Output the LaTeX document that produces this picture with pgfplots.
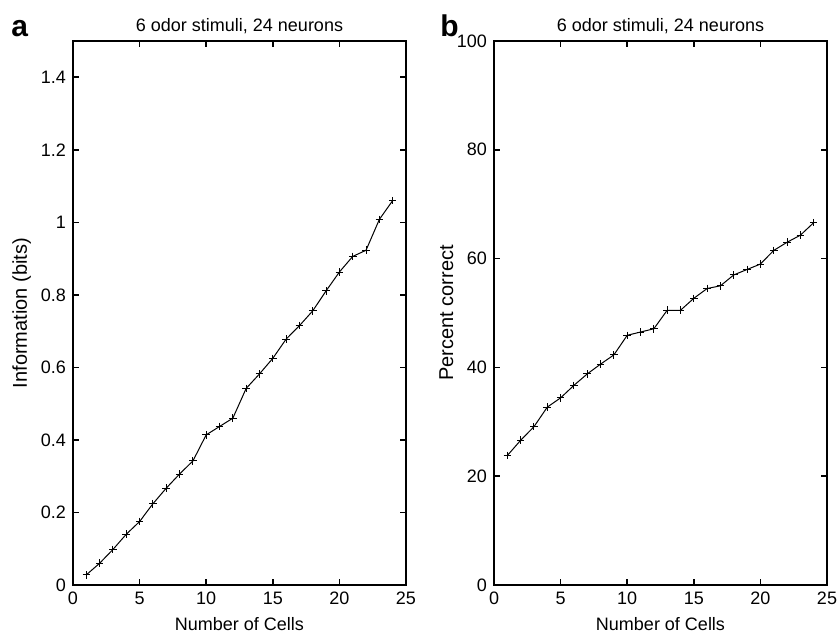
\documentclass[border=0pt]{standalone}
\usepackage{fontspec}
\setmainfont{Liberation Sans}
\usepackage{pgfplots}
\pgfplotsset{compat=1.18}

\pgfplotsset{
  panel/.style={
    scale only axis,
    width=166.5pt,
    height=272pt,
    xmin=0, xmax=25,
    xtick={0,5,...,25},
    tick align=inside,
    major tick length=3pt,
    axis line style={line width=1pt},
    every tick/.style={black, line width=0.8pt},
    tick label style={font=\fontsize{9}{11}\selectfont},
    label style={font=\fontsize{9}{11}\selectfont},
    every axis title/.style={font=\fontsize{9}{11}\selectfont, at={(rel axis cs:0.5,1)}, anchor=base, yshift=4.5pt},
    xlabel style={at={(rel axis cs:0.5,0)}, anchor=base, yshift=-22.5pt},
    /pgf/number format/assume math mode=true,
    xlabel={Number of Cells},
    title={6 odor stimuli, 24 neurons},
    clip=false,
  },
  curve/.style={black, line width=0.5pt, mark=+, mark size=1.9pt, mark options={line width=0.5pt}},
}

\begin{document}
\begin{tikzpicture}
\begin{axis}[panel, name=left,
  ymin=0, ymax=1.5,
  ytick={0,0.2,...,1.4},
  yticklabels={0,0.2,0.4,0.6,0.8,1,1.2,1.4},
  ylabel={Information (bits)},
  every axis y label/.style={at={(rel axis cs:0,0.5)}, rotate=90, anchor=base, yshift=23pt}]
\addplot[curve] coordinates {
(1,0.028) (2,0.060) (3,0.098) (4,0.140) (5,0.175) (6,0.224)
(7,0.267) (8,0.306) (9,0.342) (10,0.414) (11,0.437) (12,0.460)
(13,0.542) (14,0.582) (15,0.625) (16,0.678) (17,0.715) (18,0.756)
(19,0.811) (20,0.863) (21,0.906) (22,0.923) (23,1.008) (24,1.060)};
\node[anchor=base west, font=\fontsize{15}{17}\selectfont\bfseries, inner sep=0pt]
  at (rel axis cs:0,1) [xshift=-31pt, yshift=2pt] {a};
\end{axis}
\begin{axis}[panel, name=right, xshift=210.5pt,
  ymin=0, ymax=100,
  ytick={0,20,...,100},
  ylabel={Percent correct},
  every axis y label/.style={at={(rel axis cs:0,0.5)}, rotate=90, anchor=base, yshift=20.5pt}]
\addplot[curve] coordinates {
(1,23.8) (2,26.6) (3,29.1) (4,32.7) (5,34.4) (6,36.7)
(7,38.8) (8,40.6) (9,42.3) (10,45.9) (11,46.5) (12,47.1)
(13,50.5) (14,50.5) (15,52.7) (16,54.5) (17,55.0) (18,57.0)
(19,58.0) (20,59.0) (21,61.5) (22,63.0) (23,64.3) (24,66.6)};
\node[anchor=base west, font=\fontsize{15}{17}\selectfont\bfseries, inner sep=0pt]
  at (rel axis cs:0,1) [xshift=-27pt, yshift=2pt] {b};
\end{axis}
\pgfresetboundingbox
\path[use as bounding box] (-36.5pt,-23.5pt) rectangle (383pt,292.5pt);
\end{tikzpicture}
\end{document}
